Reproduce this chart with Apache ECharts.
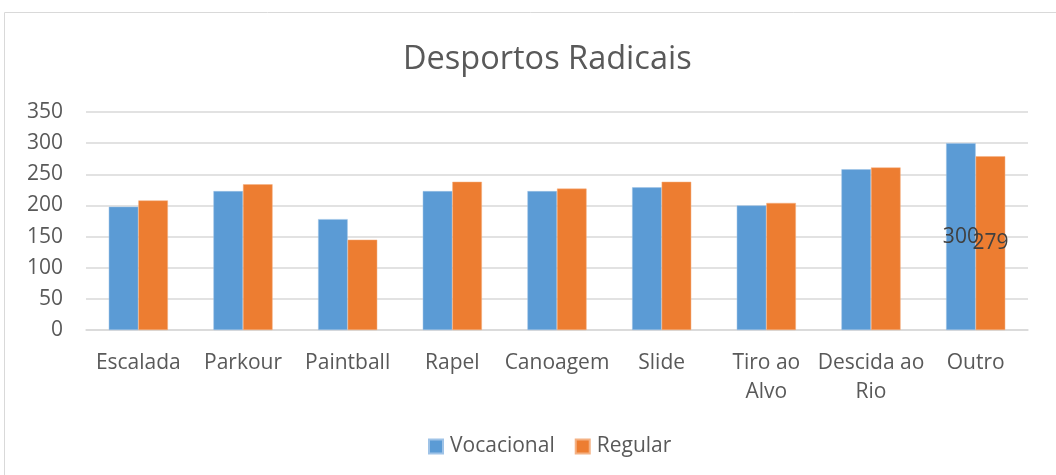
<!DOCTYPE html>
<html>
<head>
<meta charset="utf-8">
<script src="https://cdn.jsdelivr.net/npm/echarts@6/dist/echarts.min.js"></script>
<style>
  html, body { margin: 0; padding: 0; background: #fff; }
  #chart { width: 1056px; height: 475px; }
</style>
</head>
<body>
<div id="chart"></div>
<script>
// Data
const categories = ['Escalada', 'Parkour', 'Paintball', 'Rapel', 'Canoagem', 'Slide', 'Tiro ao\nAlvo', 'Descida ao\nRio', 'Outro'];
const vocacional = [198, 223, 178, 223, 223, 229, 200, 258, 300];
const regular = [208, 234, 145, 238, 227, 238, 204, 261, 279];
// only the last category shows its value labels
const labelledIndex = 8;

const textColor = '#595959';
const font = 'Open Sans';

function toSeriesData(values) {
	return values.map((v, i) => ({
		value: v,
		label: { show: i === labelledIndex }
	}));
}

const chart = echarts.init(document.getElementById('chart'));

const option = {
	animation: false,
	textStyle: { fontFamily: font },
	title: {
		text: 'Desportos Radicais',
		left: 398,
		top: 38,
		textStyle: { fontFamily: font, fontSize: 32.5, fontWeight: 'normal', color: textColor }
	},
	graphic: [{
		type: 'rect',
		shape: { x: 4.5, y: 12.5, width: 1100, height: 500 },
		style: { fill: 'none', stroke: '#d9d9d9', lineWidth: 1 },
		silent: true
	}],
	legend: {
		data: ['Vocacional', 'Regular'],
		left: 423,
		top: 431,
		icon: 'rect',
		itemWidth: 14,
		itemHeight: 14,
		itemGap: 20,
		textStyle: { fontFamily: font, fontSize: 21, color: textColor, padding: [0, 0, 0, 2] }
	},
	grid: { left: 86, right: 28, top: 112, bottom: 145 },
	xAxis: {
		type: 'category',
		data: categories,
		axisTick: { show: false },
		axisLine: { lineStyle: { color: '#d9d9d9', width: 1.5 } },
		axisLabel: {
			interval: 0,
			margin: 19,
			fontFamily: font,
			fontSize: 21,
			lineHeight: 29,
			color: textColor
		}
	},
	yAxis: {
		type: 'value',
		min: 0,
		max: 350,
		interval: 50,
		axisLine: { show: false },
		axisTick: { show: false },
		splitLine: { lineStyle: { color: '#d9d9d9', width: 1.5 } },
		axisLabel: { margin: 23, fontFamily: font, fontSize: 21, color: textColor }
	},
	series: [
		{
			name: 'Vocacional',
			type: 'bar',
			barGap: '0%',
			barCategoryGap: '43.5%',
			itemStyle: { color: '#5b9bd5', borderColor: '#9fc3e7', borderWidth: 0.5 },
			label: { position: 'inside', color: '#404040', fontSize: 21, fontFamily: font },
			data: toSeriesData(vocacional)
		},
		{
			name: 'Regular',
			type: 'bar',
			itemStyle: { color: '#ed7d31', borderColor: '#f4b183', borderWidth: 0.5 },
			label: { position: 'inside', color: '#404040', fontSize: 21, fontFamily: font },
			data: toSeriesData(regular)
		}
	]
};

chart.setOption(option);
</script>
</body>
</html>
